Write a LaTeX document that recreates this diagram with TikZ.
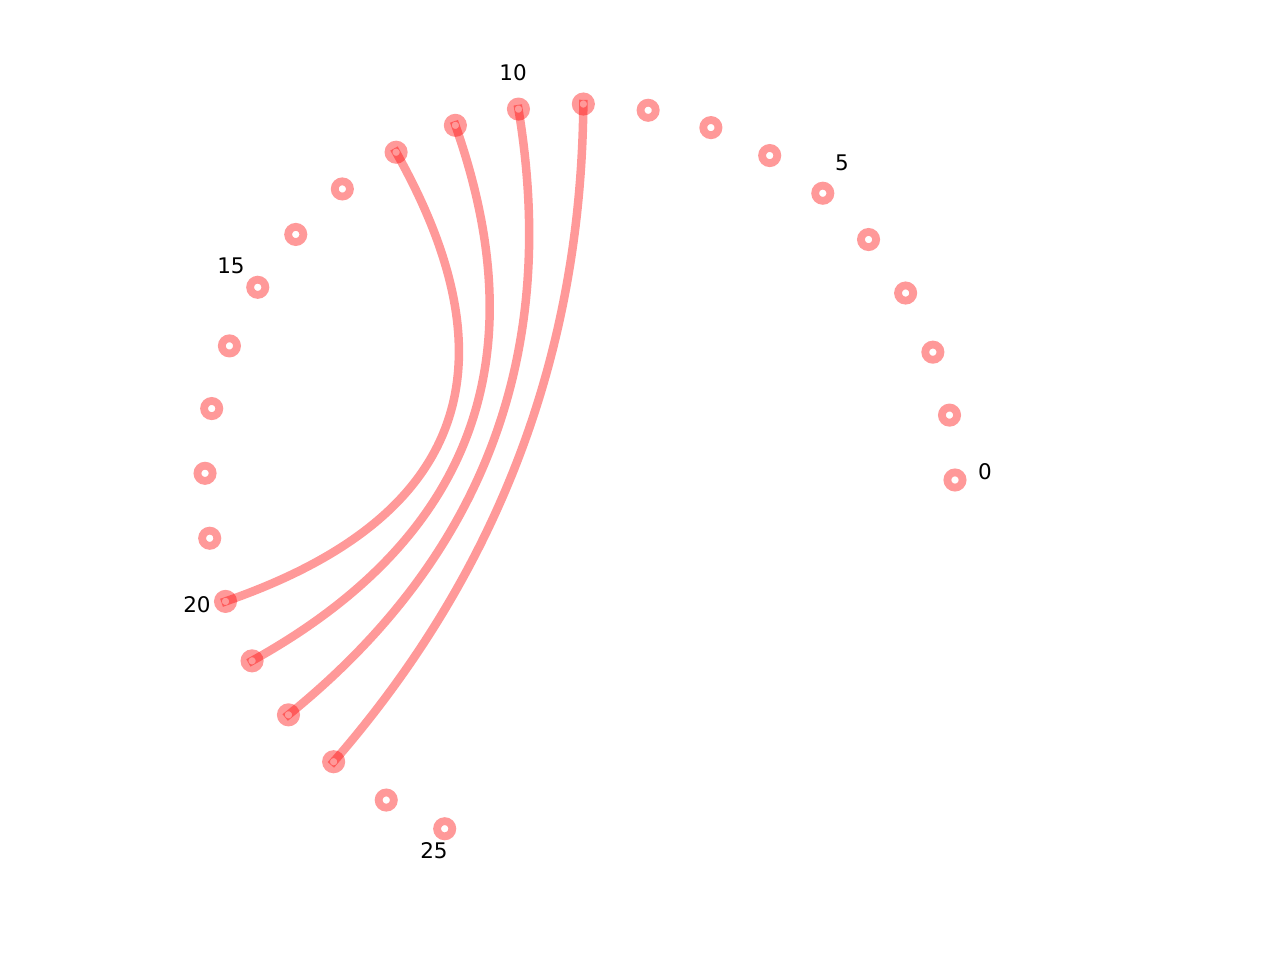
\documentclass[tikz,border=0pt]{standalone}
\usepackage{fontspec}
\setmainfont{DejaVu Sans}
\usetikzlibrary{calc}
\definecolor{pinkred}{RGB}{255,0,0}
\tikzset{
  dotmark/.style={circle, draw=red!40, fill=white, line width=7.8pt, minimum size=15.2pt, inner sep=0pt},
  chord/.style={draw=pinkred, draw opacity=0.4, line width=8.5pt, line cap=rect},
  lab/.style={font=\fontsize{21.5}{21.5}\selectfont, inner sep=0pt, anchor=center}
}
\begin{document}
\begin{tikzpicture}[x=1pt,y=1pt]
\useasboundingbox (0,0) rectangle (1280,-960);
\coordinate (C) at (580,-479);
\foreach \i in {0,...,25}{
  \node[dotmark] (p\i) at ($(C)+({9.96*\i-0.15}:375)$) {};
}
\foreach \a/\b in {12/20,11/21,10/22,9/23}{
  \draw[chord] (p\a.center) .. controls ($(p\a.center)!0.6667!(C)$) and ($(p\b.center)!0.6667!(C)$) .. (p\b.center);
}
\node[lab] (l0) at (985,-472) {0};
\node[lab] (l5) at (842,-163) {5};
\node[lab] (l10) at (513,-73) {10};
\node[lab] (l15) at (231,-266) {15};
\node[lab] (l20) at (197,-605) {20};
\node[lab] (l25) at (434,-851) {25};
\end{tikzpicture}
\end{document}
